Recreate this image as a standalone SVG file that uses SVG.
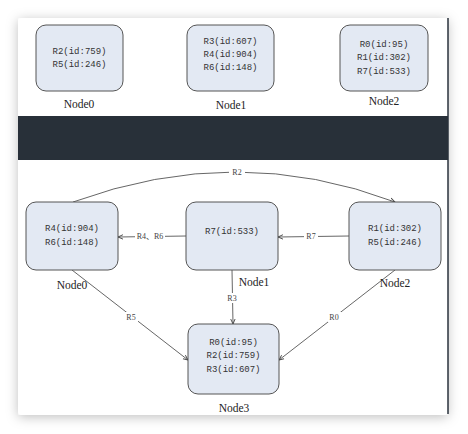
<svg xmlns="http://www.w3.org/2000/svg" width="468" height="434" viewBox="0 0 468 434">
<defs>
<filter id="sh" x="-10%" y="-10%" width="120%" height="120%">
<feDropShadow dx="0" dy="2" stdDeviation="6" flood-color="#000" flood-opacity="0.25"/>
</filter>
<marker id="ah" markerWidth="6" markerHeight="6" refX="5" refY="3" orient="auto" markerUnits="userSpaceOnUse">
<path d="M0,0.8 L5,3 L0,5.2" fill="none" stroke="#444" stroke-width="0.9"/>
</marker>
<style>
.box{fill:#e3e9f3;stroke:#555;stroke-width:1}
.t{font-family:"Liberation Mono","Noto Sans CJK SC",monospace;font-size:9px;fill:#333;text-anchor:middle}
.lbl{font-family:"Liberation Serif","Noto Sans CJK SC",serif;font-size:11.5px;fill:#222;text-anchor:middle}
.e{fill:none;stroke:#555;stroke-width:0.9;marker-end:url(#ah)}
.el{font-family:"Liberation Serif","Noto Sans CJK SC",serif;font-size:8px;fill:#444;text-anchor:middle}
.bg{fill:#fff}
</style>
</defs>
<rect width="468" height="434" fill="#fff"/>
<rect x="18" y="18" width="430" height="397" rx="3" fill="#fff" filter="url(#sh)"/>
<line x1="448" y1="18" x2="448" y2="414" stroke="#2a323c" stroke-width="1.5"/>
<rect x="18" y="116" width="430" height="44" fill="#283039"/>

<g id="top-node0">
<rect class="box" x="36" y="25" width="87" height="66" rx="10"/>
<text class="t" x="79.5" y="54">R2(id:759)</text>
<text class="t" x="79.5" y="67">R5(id:246)</text>
<text class="lbl" x="79" y="108">Node0</text>
</g>
<g id="top-node1">
<rect class="box" x="187" y="25" width="87" height="66" rx="10"/>
<text class="t" x="230.5" y="44">R3(id:607)</text>
<text class="t" x="230.5" y="57">R4(id:904)</text>
<text class="t" x="230.5" y="70">R6(id:148)</text>
<text class="lbl" x="231" y="109">Node1</text>
</g>
<g id="top-node2">
<rect class="box" x="340" y="25" width="88" height="66" rx="10"/>
<text class="t" x="384" y="47">R0(id:95)</text>
<text class="t" x="384" y="60">R1(id:302)</text>
<text class="t" x="384" y="74">R7(id:533)</text>
<text class="lbl" x="384" y="105">Node2</text>
</g>

<g id="connectors">
<path class="e" d="M73,202 Q237,142 395,202"/>
<rect class="bg" x="229" y="167" width="16" height="9"/>
<text class="el" x="237" y="175">R2</text>
<path class="e" d="M186,236 L118,237"/>
<rect class="bg" x="135" y="231" width="30" height="10"/>
<text class="el" x="150" y="239">R4、R6</text>
<path class="e" d="M349,236 L278,237"/>
<rect class="bg" x="304" y="232" width="14" height="9"/>
<text class="el" x="311" y="239">R7</text>
<path class="e" d="M232,270 L233,324"/>
<rect class="bg" x="225" y="293" width="15" height="10"/>
<text class="el" x="232" y="301">R3</text>
<path class="e" d="M72,270 L188,360"/>
<rect class="bg" x="125" y="312" width="13" height="10"/>
<text class="el" x="131" y="320">R5</text>
<path class="e" d="M395,270 L279,360"/>
<rect class="bg" x="328" y="312" width="13" height="10"/>
<text class="el" x="334" y="320">R0</text>
</g>

<g id="node0">
<rect class="box" x="26" y="202" width="92" height="68" rx="10"/>
<text class="t" x="72" y="231">R4(id:904)</text>
<text class="t" x="72" y="245">R6(id:148)</text>
<text class="lbl" x="72" y="289">Node0</text>
</g>
<g id="node1">
<rect class="box" x="186" y="202" width="92" height="68" rx="10"/>
<text class="t" x="232" y="234">R7(id:533)</text>
<text class="lbl" x="254" y="286">Node1</text>
</g>
<g id="node2">
<rect class="box" x="349" y="202" width="92" height="68" rx="10"/>
<text class="t" x="395" y="231">R1(id:302)</text>
<text class="t" x="395" y="245">R5(id:246)</text>
<text class="lbl" x="395" y="287">Node2</text>
</g>
<g id="node3">
<rect class="box" x="188" y="324" width="91" height="70" rx="10"/>
<text class="t" x="233.5" y="345">R0(id:95)</text>
<text class="t" x="233.5" y="358">R2(id:759)</text>
<text class="t" x="233.5" y="372">R3(id:607)</text>
<text class="lbl" x="234" y="412">Node3</text>
</g>
</svg>
